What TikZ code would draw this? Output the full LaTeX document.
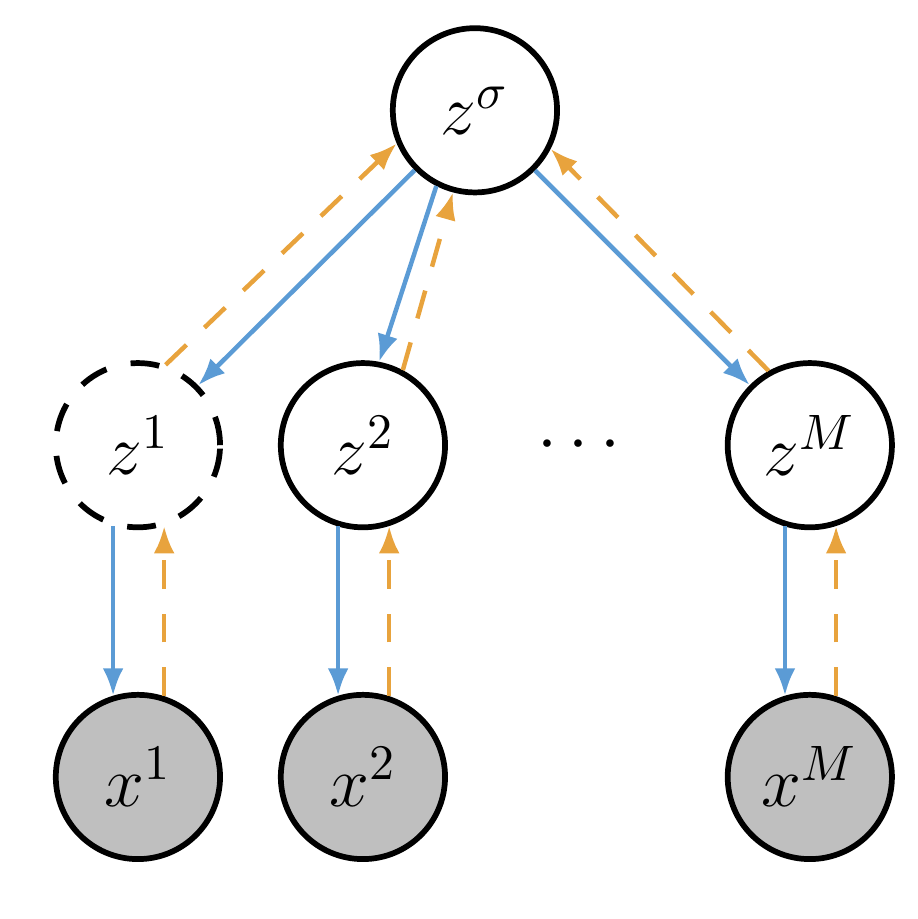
\documentclass[tikz,border=0pt]{standalone}
\usepackage{xcolor}
\usepackage{amsmath}
\usepackage{tikz}
\usetikzlibrary{arrows.meta,positioning}
\definecolor{genblue}{HTML}{5B9BD5}
\definecolor{inforange}{HTML}{E8A33D}
\definecolor{obsgray}{HTML}{BFBFBF}

\begin{document}
\begin{tikzpicture}[
  latent/.style={draw, circle, line width=1.15pt, minimum size=1.16cm, inner sep=0pt, font=\Large},
  obs/.style={latent, fill=obsgray},
  missing/.style={latent, dash pattern=on 5.8pt off 5pt},
  genarrow/.style={-{Latex[length=5.5pt,width=4.2pt]}, line width=0.9pt, genblue},
  infarrow/.style={-{Latex[length=5.5pt,width=4.2pt]}, line width=0.9pt, inforange, dash pattern=on 5.8pt off 5pt},
]
\useasboundingbox (0,0) rectangle (6.48,6.49);

% Shared latent
\node[latent] (zs) at (3.354,5.711) {$z^{\sigma}$};

% Modality latents
\node[missing] (z1) at (0.974,3.346) {$z^{1}$};
\node[latent] (z2) at (2.563,3.346) {$z^{2}$};
\node[latent] (zM) at (5.719,3.346) {$z^{M}$};
\node[anchor=base, font=\Large] (dots) at (4.13,3.234) {$\cdots$};

% Observations
\node[obs] (x1) at (0.974,1.003) {$x^{1}$};
\node[obs] (x2) at (2.563,1.003) {$x^{2}$};
\node[obs] (xM) at (5.719,1.003) {$x^{M}$};

% Generative (top-down)
\draw[genarrow] (zs) -- (z1);
\draw[genarrow] (zs.243) -- (z2.79);
\draw[genarrow] (zs) -- (zM);
\foreach \m in {1,2,M}
  \draw[genarrow] (z\m.253) -- (x\m.107);

% Inference (bottom-up)
\draw[infarrow] (z1.71) -- (zs.203);
\draw[infarrow] (z2.62) -- (zs.255);
\draw[infarrow] (zM.119) -- (zs.333);
\foreach \m in {1,2,M}
  \draw[infarrow] (x\m.72) -- (z\m.288);

\end{tikzpicture}
\end{document}
